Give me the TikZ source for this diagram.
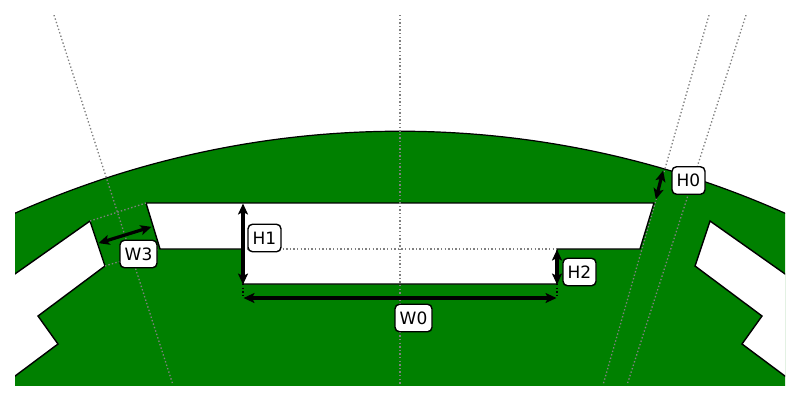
\documentclass[tikz,border=0pt]{standalone}
\usepackage{fontspec}
\setmainfont{DejaVu Sans}
\usetikzlibrary{arrows.meta}
\definecolor{pgreen}{RGB}{0,128,0}
\tikzset{
  slot/.style={fill=white,draw=black,line width=1.4pt,line join=miter},
  guide/.style={draw=gray,line width=1.3pt,dash pattern=on 1.4pt off 2.2pt},
  guideb/.style={draw=black,line width=1.3pt,dash pattern=on 1.4pt off 2.2pt},
  dim/.style={draw=black,line width=3.2pt,{Stealth[length=11pt,width=10pt,inset=2.5pt]}-{Stealth[length=11pt,width=10pt,inset=2.5pt]},shorten >=-0.5pt,shorten <=-0.5pt},
  lab/.style={draw=black,fill=white,rounded corners=4.5pt,line width=1.4pt,font=\fontsize{17}{20}\selectfont,inner sep=0pt,minimum height=27.5pt,text height=12.6pt,text depth=0.4pt,align=center}
}
\begin{document}
\begin{tikzpicture}[x=1pt,y=-1pt]
\useasboundingbox (0,0) rectangle (800,400);
\begin{scope}
\clip (15,15) rectangle (785,385);
\coordinate (c) at (400,1076);
\path[fill=pgreen] (c) ++(-116:944.8) arc[start angle=-116,end angle=-64,radius=944.8] -- (820,400) -- (-20,400) -- cycle;
\draw[black,line width=1.2pt] (c) ++(-116:944.8) arc[start angle=-116,end angle=-64,radius=944.8];
\draw[slot] (146,203) -- (654,203) -- (640,249) -- (557,249) -- (557,284) -- (243,284) -- (243,249) -- (160,249) -- cycle;
\draw[slot] (-5,288) -- (90,221) -- (105,266) -- (38,316) -- (58,344) -- (-5,391) -- cycle;
\draw[slot] (805,288) -- (710,221) -- (695,266) -- (762,316) -- (742,344) -- (805,391) -- cycle;
\coordinate (cT) at (400,15); \coordinate (cB) at (400,385);
\coordinate (lT) at (54,15); \coordinate (lB) at (173,385);
\coordinate (rAT) at (709,15); \coordinate (rAB) at (603,385);
\coordinate (rBT) at (746,15); \coordinate (rBB) at (627,385);
\coordinate (w3a) at (90,221); \coordinate (w3b) at (146,203);
\coordinate (w3c) at (105,266); \coordinate (w3d) at (160,249);
\coordinate (h1a) at (243,249); \coordinate (h1b) at (557,249);
\coordinate (w0a) at (243,284); \coordinate (w0b) at (243,298);
\coordinate (w0c) at (557,284); \coordinate (w0d) at (557,298);
\draw[guide] (cT) -- (cB);
\draw[guide] (lT) -- (lB);
\draw[guide] (rAT) -- (rAB);
\draw[guide] (rBT) -- (rBB);
\draw[guide] (w3a) -- (w3b);
\draw[guide] (w3c) -- (w3d);
\draw[guide] (h1a) -- (h1b);
\draw[guideb] (w0a) -- (w0b);
\draw[guideb] (w0c) -- (w0d);
\end{scope}
\coordinate (aH1t) at (243,204); \coordinate (aH1b) at (243,284);
\coordinate (aH2t) at (557,250); \coordinate (aH2b) at (557,284);
\coordinate (aW0l) at (244,298); \coordinate (aW0r) at (556,298);
\coordinate (aW3l) at (99,243); \coordinate (aW3r) at (151,227);
\coordinate (aH0b) at (656,199); \coordinate (aH0t) at (663,171);
\draw[dim] (aH1t) -- (aH1b);
\draw[dim] (aH2t) -- (aH2b);
\draw[dim] (aW0l) -- (aW0r);
\draw[dim] (aW3l) -- (aW3r);
\draw[dim] (aH0b) -- (aH0t);
\node[lab,minimum width=33pt] (H0) at (688.5,180.5) {H0};
\node[lab,minimum width=37pt] (W3) at (138.5,254) {W3};
\node[lab,minimum width=33pt] (H1) at (264.5,238) {H1};
\node[lab,minimum width=33pt] (H2) at (579.5,272) {H2};
\node[lab,minimum width=37pt] (W0) at (413.5,318) {W0};
\end{tikzpicture}
\end{document}
